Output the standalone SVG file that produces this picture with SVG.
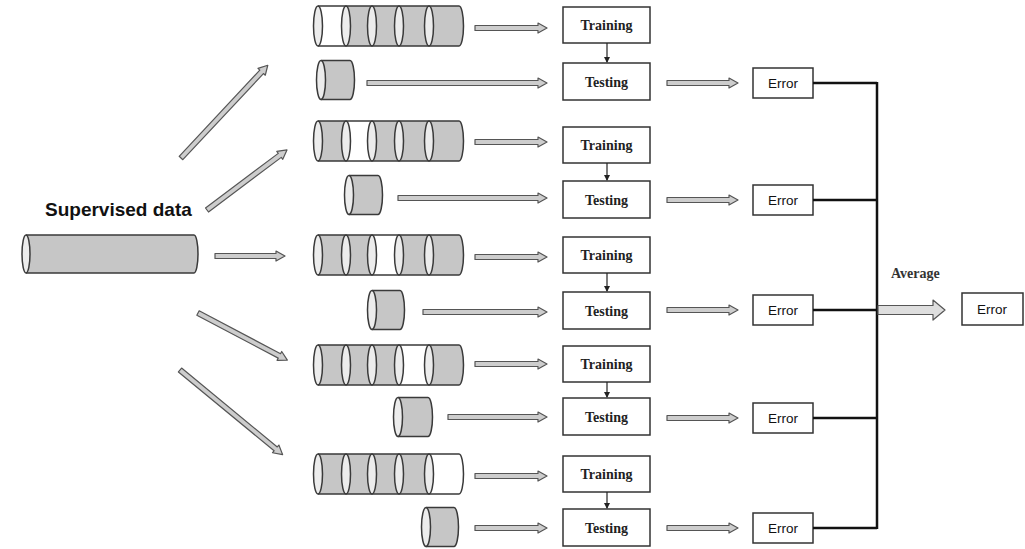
<svg xmlns="http://www.w3.org/2000/svg" width="1025" height="549" viewBox="0 0 1025 549">
<style>
.body{fill:#c6c6c6;stroke:none}
.outline{fill:none;stroke:#3a3a3a;stroke-width:1.5}
.white{fill:#ffffff;stroke:none}
.ring{fill:#ececec;stroke:#3a3a3a;stroke-width:1.5}
.box{fill:#ffffff;stroke:#333;stroke-width:1.5}
.lbl{font-family:"Liberation Serif","Times New Roman",serif;font-weight:bold;font-size:14px;fill:#222;text-anchor:middle}
.err{font-family:"Liberation Sans",Arial,sans-serif;font-size:13.5px;fill:#111;text-anchor:middle}
.arr{fill:#cdcdcd;stroke:#555;stroke-width:1.2;stroke-linejoin:round}
.thick{fill:none;stroke:#111;stroke-width:2.5}
.small{fill:none;stroke:#222;stroke-width:1.2}
</style>
<defs>
<marker id="ah" markerWidth="6" markerHeight="6" refX="5" refY="3" orient="auto" markerUnits="userSpaceOnUse">
<path d="M0,0 L6,3 L0,6 Z" fill="#222"/>
</marker>
</defs>

<!-- Supervised data -->
<g id="supervised">
<text x="45" y="216" style="font-family:'Liberation Sans',Arial,sans-serif;font-weight:bold;font-size:19px;fill:#111">Supervised data</text>
<path class="body" d="M26,235 H194 A4,19 0 0 1 194,273 H26 A4,19 0 0 1 26,235 Z"/>
<ellipse class="ring" cx="26" cy="254" rx="4" ry="19"/>
<path class="outline" d="M26,235 H194 A4,19 0 0 1 194,273 H26"/>
</g>

<!-- Fold 1 -->
<g id="train1">
<path class="body" d="M318,6 H459 A4.5,20 0 0 1 459,46 H318 A4.5,20 0 0 1 318,6 Z"/>
<path class="white" d="M318,6 H346 V46 H318 Z"/>
<ellipse class="ring" cx="318" cy="26" rx="4.5" ry="20"/>
<ellipse class="ring" cx="346" cy="26" rx="4.5" ry="20"/>
<ellipse class="ring" cx="372" cy="26" rx="4.5" ry="20"/>
<ellipse class="ring" cx="399" cy="26" rx="4.5" ry="20"/>
<ellipse class="ring" cx="429" cy="26" rx="4.5" ry="20"/>
<path class="outline" d="M318,6 H459 A4.5,20 0 0 1 459,46 H318"/>
</g>
<g id="test1">
<path class="body" d="M321,60.5 H350 A4.5,19.5 0 0 1 350,99.5 H321 A4.5,19.5 0 0 1 321,60.5 Z"/>
<ellipse class="ring" cx="321" cy="80" rx="4.5" ry="19.5"/>
<path class="outline" d="M321,60.5 H350 A4.5,19.5 0 0 1 350,99.5 H321"/>
</g>

<!-- Fold 2 -->
<g id="train2">
<path class="body" d="M318,121 H459 A4.5,20 0 0 1 459,161 H318 A4.5,20 0 0 1 318,121 Z"/>
<path class="white" d="M346,121 H372 V161 H346 Z"/>
<ellipse class="ring" cx="318" cy="141" rx="4.5" ry="20"/>
<ellipse class="ring" cx="346" cy="141" rx="4.5" ry="20"/>
<ellipse class="ring" cx="372" cy="141" rx="4.5" ry="20"/>
<ellipse class="ring" cx="399" cy="141" rx="4.5" ry="20"/>
<ellipse class="ring" cx="429" cy="141" rx="4.5" ry="20"/>
<path class="outline" d="M318,121 H459 A4.5,20 0 0 1 459,161 H318"/>
</g>
<g id="test2">
<path class="body" d="M349,175.5 H378 A4.5,19.5 0 0 1 378,214.5 H349 A4.5,19.5 0 0 1 349,175.5 Z"/>
<ellipse class="ring" cx="349" cy="195" rx="4.5" ry="19.5"/>
<path class="outline" d="M349,175.5 H378 A4.5,19.5 0 0 1 378,214.5 H349"/>
</g>

<!-- Fold 3 -->
<g id="train3">
<path class="body" d="M318,235 H459 A4.5,20 0 0 1 459,275 H318 A4.5,20 0 0 1 318,235 Z"/>
<path class="white" d="M372,235 H399 V275 H372 Z"/>
<ellipse class="ring" cx="318" cy="255" rx="4.5" ry="20"/>
<ellipse class="ring" cx="346" cy="255" rx="4.5" ry="20"/>
<ellipse class="ring" cx="372" cy="255" rx="4.5" ry="20"/>
<ellipse class="ring" cx="399" cy="255" rx="4.5" ry="20"/>
<ellipse class="ring" cx="429" cy="255" rx="4.5" ry="20"/>
<path class="outline" d="M318,235 H459 A4.5,20 0 0 1 459,275 H318"/>
</g>
<g id="test3">
<path class="body" d="M372,290.5 H400 A4.5,19.5 0 0 1 400,329.5 H372 A4.5,19.5 0 0 1 372,290.5 Z"/>
<ellipse class="ring" cx="372" cy="310" rx="4.5" ry="19.5"/>
<path class="outline" d="M372,290.5 H400 A4.5,19.5 0 0 1 400,329.5 H372"/>
</g>

<!-- Fold 4 -->
<g id="train4">
<path class="body" d="M318,345 H459 A4.5,20 0 0 1 459,385 H318 A4.5,20 0 0 1 318,345 Z"/>
<path class="white" d="M399,345 H429 V385 H399 Z"/>
<ellipse class="ring" cx="318" cy="365" rx="4.5" ry="20"/>
<ellipse class="ring" cx="346" cy="365" rx="4.5" ry="20"/>
<ellipse class="ring" cx="372" cy="365" rx="4.5" ry="20"/>
<ellipse class="ring" cx="399" cy="365" rx="4.5" ry="20"/>
<ellipse class="ring" cx="429" cy="365" rx="4.5" ry="20"/>
<path class="outline" d="M318,345 H459 A4.5,20 0 0 1 459,385 H318"/>
</g>
<g id="test4">
<path class="body" d="M398,397.5 H428 A4.5,19.5 0 0 1 428,436.5 H398 A4.5,19.5 0 0 1 398,397.5 Z"/>
<ellipse class="ring" cx="398" cy="417" rx="4.5" ry="19.5"/>
<path class="outline" d="M398,397.5 H428 A4.5,19.5 0 0 1 428,436.5 H398"/>
</g>

<!-- Fold 5 -->
<g id="train5">
<path class="body" d="M318,454 H459 A4.5,20 0 0 1 459,494 H318 A4.5,20 0 0 1 318,454 Z"/>
<path class="white" d="M429,454 H459 A4.5,20 0 0 1 459,494 H429 Z"/>
<ellipse class="ring" cx="318" cy="474" rx="4.5" ry="20"/>
<ellipse class="ring" cx="346" cy="474" rx="4.5" ry="20"/>
<ellipse class="ring" cx="372" cy="474" rx="4.5" ry="20"/>
<ellipse class="ring" cx="399" cy="474" rx="4.5" ry="20"/>
<ellipse class="ring" cx="429" cy="474" rx="4.5" ry="20"/>
<path class="outline" d="M318,454 H459 A4.5,20 0 0 1 459,494 H318"/>
</g>
<g id="test5">
<path class="body" d="M426,507.5 H454 A4.5,19.5 0 0 1 454,546.5 H426 A4.5,19.5 0 0 1 426,507.5 Z"/>
<ellipse class="ring" cx="426" cy="527" rx="4.5" ry="19.5"/>
<path class="outline" d="M426,507.5 H454 A4.5,19.5 0 0 1 454,546.5 H426"/>
</g>

<!-- Training / Testing / Error boxes -->
<g id="training1"><rect class="box" x="563" y="7" width="87" height="36"/><text class="lbl" x="606.5" y="30">Training</text></g>
<g id="testing1"><rect class="box" x="563" y="63" width="87" height="37"/><text class="lbl" x="606.5" y="86.5">Testing</text></g>
<g id="error1"><rect class="box" x="753" y="68" width="60" height="30"/><text class="err" x="783" y="88">Error</text></g>

<g id="training2"><rect class="box" x="563" y="127" width="87" height="36"/><text class="lbl" x="606.5" y="150">Training</text></g>
<g id="testing2"><rect class="box" x="563" y="181" width="87" height="37"/><text class="lbl" x="606.5" y="204.5">Testing</text></g>
<g id="error2"><rect class="box" x="753" y="185" width="60" height="30"/><text class="err" x="783" y="205">Error</text></g>

<g id="training3"><rect class="box" x="563" y="237" width="87" height="36"/><text class="lbl" x="606.5" y="260">Training</text></g>
<g id="testing3"><rect class="box" x="563" y="292" width="87" height="37"/><text class="lbl" x="606.5" y="315.5">Testing</text></g>
<g id="error3"><rect class="box" x="753" y="295" width="60" height="30"/><text class="err" x="783" y="315">Error</text></g>

<g id="training4"><rect class="box" x="563" y="346" width="87" height="36"/><text class="lbl" x="606.5" y="369">Training</text></g>
<g id="testing4"><rect class="box" x="563" y="398" width="87" height="37"/><text class="lbl" x="606.5" y="421.5">Testing</text></g>
<g id="error4"><rect class="box" x="753" y="403" width="60" height="30"/><text class="err" x="783" y="423">Error</text></g>

<g id="training5"><rect class="box" x="563" y="456" width="87" height="36"/><text class="lbl" x="606.5" y="479">Training</text></g>
<g id="testing5"><rect class="box" x="563" y="509" width="87" height="37"/><text class="lbl" x="606.5" y="532.5">Testing</text></g>
<g id="error5"><rect class="box" x="753" y="513" width="60" height="30"/><text class="err" x="783" y="533">Error</text></g>

<g id="finalError"><rect class="box" x="962" y="293" width="61" height="32"/><text class="err" x="992" y="314">Error</text></g>

<!-- Connectors -->
<g id="connectors">
<path class="arr" d="M215,253.5 H276 V251 L285,256 L276,261 V258.5 H215 Z"/>
<path class="arr" transform="translate(181,158) rotate(-46.9)" d="M0,-2.5 H118 V-5 L127,0 L118,5 V2.5 H0 Z"/>
<path class="arr" transform="translate(207,210) rotate(-36.9)" d="M0,-2.5 H91 V-5 L100,0 L91,5 V2.5 H0 Z"/>
<path class="arr" transform="translate(198,313) rotate(27.8)" d="M0,-2.5 H92 V-5 L101,0 L92,5 V2.5 H0 Z"/>
<path class="arr" transform="translate(180,370) rotate(39.5)" d="M0,-2.5 H124 V-5 L133,0 L124,5 V2.5 H0 Z"/>

<path class="arr" d="M475,25.5 H538 V23 L547,28 L538,33 V30.5 H475 Z"/>
<path class="arr" d="M475,139.5 H538 V137 L547,142 L538,147 V144.5 H475 Z"/>
<path class="arr" d="M475,254.5 H538 V252 L547,257 L538,262 V259.5 H475 Z"/>
<path class="arr" d="M475,361.5 H538 V359 L547,364 L538,369 V366.5 H475 Z"/>
<path class="arr" d="M475,473.5 H538 V471 L547,476 L538,481 V478.5 H475 Z"/>

<path class="arr" d="M367,80.5 H538 V78 L547,83 L538,88 V85.5 H367 Z"/>
<path class="arr" d="M398,195.5 H538 V193 L547,198 L538,203 V200.5 H398 Z"/>
<path class="arr" d="M423,309.5 H538 V307 L547,312 L538,317 V314.5 H423 Z"/>
<path class="arr" d="M448,414.5 H538 V412 L547,417 L538,422 V419.5 H448 Z"/>
<path class="arr" d="M475,525.5 H538 V523 L547,528 L538,533 V530.5 H475 Z"/>

<path class="arr" d="M667,80.5 H729 V78 L738,83 L729,88 V85.5 H667 Z"/>
<path class="arr" d="M667,197.5 H729 V195 L738,200 L729,205 V202.5 H667 Z"/>
<path class="arr" d="M667,307.5 H729 V305 L738,310 L729,315 V312.5 H667 Z"/>
<path class="arr" d="M667,415.5 H729 V413 L738,418 L729,423 V420.5 H667 Z"/>
<path class="arr" d="M667,525.5 H729 V523 L738,528 L729,533 V530.5 H667 Z"/>

<line class="small" x1="607" y1="43" x2="607" y2="62" marker-end="url(#ah)"/>
<line class="small" x1="607" y1="163" x2="607" y2="180" marker-end="url(#ah)"/>
<line class="small" x1="607" y1="273" x2="607" y2="291" marker-end="url(#ah)"/>
<line class="small" x1="607" y1="382" x2="607" y2="397" marker-end="url(#ah)"/>
<line class="small" x1="607" y1="492" x2="607" y2="508" marker-end="url(#ah)"/>

<path class="thick" d="M813,83 H877 M813,200 H877 M813,310 H877 M813,418 H877 M813,528 H877 M877,82 V529"/>

<path class="arr" style="fill:#dedede" d="M878,305.5 H933 V300 L945,310 L933,320 V314.5 H878 Z"/>
<text x="891" y="278" style="font-family:'Liberation Serif','Times New Roman',serif;font-weight:bold;font-size:14px;fill:#333">Average</text>
</g>
</svg>
